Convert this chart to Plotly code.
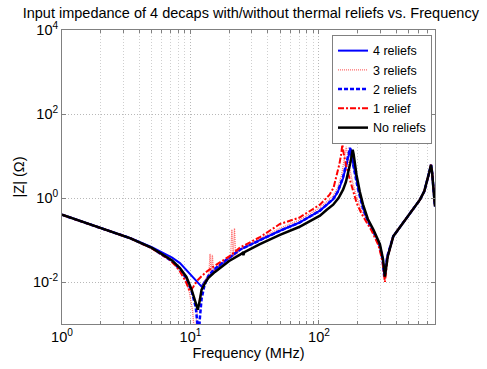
import plotly.graph_objects as go

# ---------------- data ----------------
# 4 reliefs
f_4 = [1, 1.5, 2, 3.38, 5, 6.14, 7.2, 8.28, 9.3, 10.2, 11.0, 11.7, 12.2, 12.8, 13.9, 15.5, 17, 20, 24.3,
       34.7, 49.7, 70, 101.8, 129, 140, 154, 163, 171, 176, 180, 185, 193, 202, 222, 242, 267, 296,
       313, 324, 333, 341, 379, 430, 481, 540, 611, 660, 689, 720, 745, 760, 776, 800]
z_4 = [0.398, 0.260, 0.192, 0.112, 0.0676, 0.0490, 0.0380, 0.0282, 0.0191, 0.0135, 0.0105, 0.00851,
       0.00776, 0.0100, 0.0135, 0.0200, 0.0251, 0.0363, 0.0589, 0.100, 0.166, 0.257, 0.501, 0.933,
       1.38, 2.95, 5.62, 10.5, 15.1, 11.2, 6.31, 3.55, 1.78, 0.562, 0.282, 0.158, 0.0794, 0.0355,
       0.0135, 0.0251, 0.0407, 0.123, 0.209, 0.331, 0.525, 0.912, 1.45, 2.29, 3.98, 6.17, 3.98, 1.86,
       0.631]

# 3 reliefs
f_3 = [1, 1.5, 2, 3.38, 5, 6.14, 6.9, 7.6, 8.28, 9.06, 9.8, 10.4, 10.8, 11.2, 11.7, 12.4, 13.2, 13.9,
       14.2, 14.5, 14.8, 15.1, 16, 17.5, 19.5, 20.5, 21.0, 21.5, 22.0, 22.5, 24.3, 34.7, 49.7, 70,
       101.8, 129, 140, 150, 157, 160, 163, 167, 173, 182, 195, 215, 240, 265, 292, 312, 324, 333, 341,
       379, 430, 481, 540, 611, 660, 689, 720, 745, 760, 776, 800]
z_3 = [0.398, 0.260, 0.192, 0.111, 0.0631, 0.0427, 0.0347, 0.0263, 0.0191, 0.0120, 0.00562, 0.00200,
       0.000501, 0.00158, 0.00398, 0.00794, 0.0120, 0.0151, 0.0468, 0.0158, 0.0447, 0.0182, 0.0224,
       0.0282, 0.0355, 0.0380, 0.178, 0.0398, 0.191, 0.0437, 0.0603, 0.105, 0.191, 0.295, 0.589, 1.12,
       1.78, 3.55, 7.08, 11.2, 16.6, 10.0, 5.25, 2.51, 1.12, 0.501, 0.263, 0.158, 0.0794, 0.0355,
       0.0126, 0.0251, 0.0407, 0.123, 0.209, 0.331, 0.525, 0.912, 1.45, 2.29, 3.98, 6.17, 3.98, 1.86,
       0.631]

# 2 reliefs
f_2 = [1, 1.5, 2, 3.38, 5, 6.14, 7.2, 8.28, 9.3, 10.2, 11.0, 11.4, 11.6, 11.8, 12.2, 12.8, 13.8, 15.5,
       17, 20, 24.3, 34.7, 49.7, 70, 101.8, 129, 140, 154, 163, 170, 174, 178, 183, 191, 200, 220, 240,
       265, 295, 312, 322, 332, 340, 379, 430, 481, 540, 611, 660, 689, 720, 745, 760, 776, 800]
z_2 = [0.398, 0.260, 0.192, 0.111, 0.0646, 0.0437, 0.0309, 0.0200, 0.0120, 0.00603, 0.00251,
       0.000794, 0.000398, 0.00126, 0.00398, 0.00794, 0.0141, 0.0209, 0.0263, 0.0380, 0.0589, 0.100,
       0.166, 0.257, 0.501, 0.955, 1.41, 3.16, 6.03, 11.2, 15.8, 11.2, 6.31, 3.55, 1.78, 0.562, 0.282,
       0.158, 0.0794, 0.0355, 0.0135, 0.0251, 0.0407, 0.123, 0.209, 0.331, 0.525, 0.912, 1.45, 2.29,
       3.98, 6.17, 3.98, 1.86, 0.631]

# 1 relief
f_1 = [1, 1.5, 2, 3.38, 5, 6.14, 6.9, 7.6, 8.28, 9.06, 9.5, 9.9, 10.5, 11.2, 12.3, 13.4, 15, 17, 20,
       24.3, 34.7, 49.7, 70, 101.8, 121, 130, 137, 144, 149, 152, 156, 162, 174, 185, 196, 215, 235,
       257, 290, 312, 326, 335, 343, 379, 430, 481, 540, 611, 660, 689, 720, 745, 760, 776, 800]
z_1 = [0.398, 0.260, 0.192, 0.111, 0.0631, 0.0417, 0.0339, 0.0251, 0.0178, 0.0112, 0.00832, 0.00603,
       0.00759, 0.0105, 0.0141, 0.0178, 0.0229, 0.0295, 0.0407, 0.0661, 0.117, 0.240, 0.339, 0.692,
       1.20, 1.78, 3.24, 6.31, 11.2, 18.6, 11.2, 6.31, 2.75, 1.32, 0.776, 0.417, 0.257, 0.166, 0.0759,
       0.0316, 0.0100, 0.0240, 0.0398, 0.123, 0.209, 0.331, 0.525, 0.912, 1.45, 2.29, 3.98, 6.17,
       3.98, 1.86, 0.631]

# No reliefs
f_0 = [1, 1.5, 2, 3.38, 5, 6.14, 7.2, 8.28, 9.3, 10.2, 10.9, 11.4, 11.8, 12.2, 13.0, 13.8, 15.5, 17,
       20, 24.3, 25.4, 25.8, 26.3, 34.7, 49.7, 70, 101.8, 115, 129, 142, 154, 162, 169, 175, 180, 183,
       186, 191, 196, 208, 220, 240, 265, 298, 315, 326, 335, 343, 379, 430, 481, 540, 611, 660, 689,
       720, 745, 760, 776, 800]
z_0 = [0.398, 0.260, 0.192, 0.111, 0.0646, 0.0447, 0.0324, 0.0214, 0.0132, 0.00661, 0.00355,
       0.00219, 0.00355, 0.00661, 0.00955, 0.0126, 0.0174, 0.0219, 0.0316, 0.0447, 0.0490, 0.0437,
       0.0513, 0.0794, 0.132, 0.204, 0.380, 0.525, 0.692, 1.00, 1.58, 2.40, 3.98, 6.61, 10.5, 14.1,
       11.2, 6.31, 3.55, 1.41, 0.708, 0.316, 0.178, 0.0794, 0.0355, 0.0135, 0.0251, 0.0407, 0.123,
       0.209, 0.331, 0.525, 0.912, 1.45, 2.29, 3.98, 6.17, 3.98, 1.86, 0.631]

series_names = ["4 reliefs", "3 reliefs", "2 reliefs", "1 relief", "No reliefs"]

x_major_vals = [1, 10, 100]
x_major_text = ["10<sup>0</sup>", "10<sup>1</sup>", "10<sup>2</sup>"]
x_minor_vals = [2, 3, 4, 5, 6, 7, 8, 9, 20, 30, 40, 50, 60, 70, 80, 90,
                200, 300, 400, 500, 600, 700]
y_tickvals = [0.01, 1, 100, 10000]
y_ticktext = ["10<sup>-2</sup>", "10<sup>0</sup>", "10<sup>2</sup>", "10<sup>4</sup>"]

title_text = "Input impedance of 4 decaps with/without thermal reliefs vs. Frequency"
x_title = "Frequency (MHz)"
y_title = "|Z| (\u03a9)"

# ---------------- figure ----------------
FONT = "Liberation Sans, Arial, sans-serif"
styles = [
    dict(color="#0000ff", width=2, dash="solid"),
    dict(color="#ff6a6a", width=1.3, dash="1px,1px"),
    dict(color="#0000ff", width=2.5, dash="4px,2px"),
    dict(color="#ff0000", width=2, dash="6px,2px,2px,2px"),
    dict(color="#000000", width=2.5, dash="solid"),
]
data = [(f_4, z_4), (f_3, z_3), (f_2, z_2), (f_1, z_1), (f_0, z_0)]

fig = go.Figure()
for (fx, zy), name, st in zip(data, series_names, styles):
    fig.add_trace(go.Scatter(x=fx, y=zy, mode="lines", name=name, line=st))

axis_common = dict(
    showline=True, linecolor="#808080", linewidth=1, mirror="ticks",
    ticks="inside", ticklen=4, tickcolor="#808080",
    showgrid=True, gridcolor="#b8b8b8", griddash="1px,2px", gridwidth=1,
    zeroline=False, tickfont=dict(family=FONT, size=14.5, color="#000"),
)

fig.update_xaxes(
    type="log", range=[0, 2.90309], tickmode="array", tickvals=x_major_vals, ticktext=x_major_text,
    minor=dict(tickmode="array", tickvals=x_minor_vals, ticks="inside", ticklen=3,
               tickcolor="#808080", showgrid=True, gridcolor="#cfcfcf", griddash="1px,2px"),
    title=dict(text=x_title, font=dict(family=FONT, size=14.5, color="#000"), standoff=2),
    **axis_common,
)
fig.update_yaxes(
    type="log", range=[-3, 4], tickmode="array", tickvals=y_tickvals, ticktext=y_ticktext,
    title=dict(text=y_title, font=dict(family=FONT, size=14.5, color="#000"), standoff=4),
    **axis_common,
)

fig.update_layout(
    width=487, height=369,
    margin=dict(l=62, r=52, t=30, b=45),
    paper_bgcolor="white", plot_bgcolor="white",
    title=dict(text=title_text, font=dict(family=FONT, size=14.5, color="#000"),
               x=0.515, xanchor="center", y=1 - 13 / 369, yanchor="middle", yref="container"),
    legend=dict(x=0.992, y=0.983, xanchor="right", yanchor="top",
                bgcolor="white", bordercolor="#808080", borderwidth=1,
                font=dict(family=FONT, size=12.5, color="#000"),
                itemwidth=30, tracegroupgap=0),
    showlegend=True,
)

fig.write_html("out.html")
